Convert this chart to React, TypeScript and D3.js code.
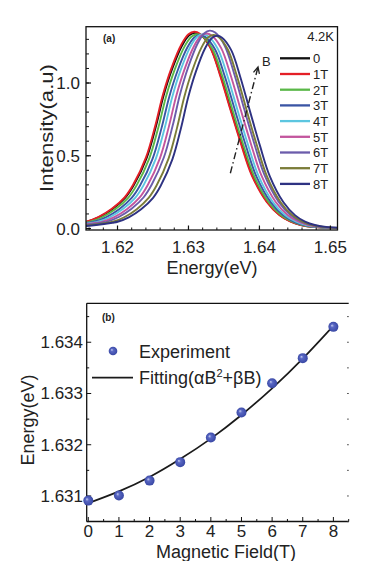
import React from 'react';
import * as d3 from 'd3';

const W = 389;
const H = 561;
const FONT = '"Liberation Sans", Arial, Helvetica, sans-serif';
const INK = '#222';

// ---- panel (a): PL spectra at 4.2K ----
const fieldLabels = ['0', '1T', '2T', '3T', '4T', '5T', '6T', '7T', '8T'];
const seriesColors = ['#111111', '#e41f26', '#5ab848', '#3a55a4', '#5cc6e0', '#c3569e', '#6b5cab', '#7b7c38', '#2e3282'];
const peakEnergy = [1.6309, 1.6308, 1.6312, 1.6316, 1.632, 1.6325, 1.633, 1.6335, 1.634];
const peakHeight = [1.345, 1.352, 1.335, 1.33, 1.335, 1.34, 1.36, 1.33, 1.325];
const peakWidth = [1, 1, 0.99, 0.98, 0.97, 0.96, 0.95, 0.93, 0.92];
// line shape, offset from the peak (eV) and relative height
const profileDE = [-0.021, -0.0185, -0.016, -0.0152, -0.0135, -0.0116, -0.0098, -0.0086, -0.0068, -0.0055, -0.0044, -0.0032, -0.0018, -0.0008, 0, 0.0008, 0.0022, 0.0036, 0.0051, 0.0066, 0.0081, 0.0102, 0.012, 0.0135, 0.015, 0.017, 0.02];
const profileI = [0.01, 0.018, 0.03, 0.035, 0.058, 0.1, 0.158, 0.222, 0.36, 0.52, 0.68, 0.815, 0.935, 0.987, 1, 0.99, 0.925, 0.785, 0.605, 0.43, 0.272, 0.136, 0.068, 0.036, 0.018, 0.007, 0.002];
const energyTicks = [1.62, 1.63, 1.64, 1.65];
const intensityTicks = [0, 0.5, 1.0];

// ---- panel (b): peak energy vs field ----
const fieldB = [0, 1, 2, 3, 4, 5, 6, 7, 8];
const peakB = [1.63091, 1.63101, 1.6313, 1.63166, 1.63214, 1.63263, 1.6332, 1.63369, 1.6343];
const fitB = [1.63086, 1.63109, 1.63137, 1.63172, 1.63212, 1.63258, 1.6331, 1.63368, 1.63432];
const fieldTicks = [0, 1, 2, 3, 4, 5, 6, 7, 8];
const energyTicksB = [1.631, 1.632, 1.633, 1.634];

export default function App() {
  // panel (a) scales
  const xA = d3.scaleLinear().domain([1.61556, 1.651]).range([86, 337.5]);
  const yA = d3.scaleLinear().domain([-0.0103, 1.387]).range([230, 26.7]);
  const [ax0, ax1] = xA.range();
  const [ay0, ay1] = yA.range();

  const lineA = d3.line<[number, number]>()
    .x(d => xA(d[0]))
    .y(d => yA(d[1]))
    .curve(d3.curveCatmullRom.alpha(0.5));

  const spectra = fieldLabels.map((_, k) =>
    profileDE.map((de, i) => [peakEnergy[k] + de * peakWidth[k], profileI[i] * peakHeight[k]] as [number, number])
  );

  const minorX = d3.range(1.616, 1.651, 0.002);
  const minorY = d3.range(0, 1.39, 0.1);

  // panel (b) scales
  const xB = d3.scaleLinear().domain([-0.052, 8.5]).range([86.7, 348.7]);
  const yB = d3.scaleLinear().domain([1.630502, 1.63476]).range([521.5, 303.3]);
  const [bx0, bx1] = xB.range();
  const [by0, by1] = yB.range();

  const fitLine = d3.line<number>()
    .x((_, i) => xB(fieldB[i]))
    .y(d => yB(d))
    .curve(d3.curveNatural);

  const minorXB = d3.range(0, 8.51, 0.5);
  const minorYB = d3.range(1.6305, 1.63476, 0.0005);

  // arrow annotation in data coords
  const arrowFrom: [number, number] = [1.6359, 0.38];
  const arrowTo: [number, number] = [1.6398, 1.11];
  const ax = xA(arrowTo[0]), ay = yA(arrowTo[1]);
  const ang = Math.atan2(yA(arrowFrom[1]) - ay, xA(arrowFrom[0]) - ax);
  const head = (da: number) => `${ax + 7 * Math.cos(ang + da)},${ay + 7 * Math.sin(ang + da)}`;

  return (
    <svg width={W} height={H} style={{ position: 'absolute', left: 0, top: 0, background: '#fff' }} fontFamily={FONT}>
      <defs>
        <clipPath id="clipA">
          <rect x={ax0} y={ay1} width={ax1 - ax0} height={ay0 - ay1} />
        </clipPath>
        <radialGradient id="ball" cx="0.5" cy="0.5" r="0.55" fx="0.35" fy="0.35">
          <stop offset="0" stopColor="#c8d0f2" />
          <stop offset="0.3" stopColor="#5a68c4" />
          <stop offset="1" stopColor="#3443a0" />
        </radialGradient>
      </defs>

      {/* ===== panel (a) ===== */}
      <g clipPath="url(#clipA)">
        {spectra.map((pts, k) => (
          <path key={k} d={lineA(pts) || ''} fill="none" stroke={seriesColors[k]} strokeWidth={1.9} />
        ))}
      </g>
      <rect x={ax0} y={ay1} width={ax1 - ax0} height={ay0 - ay1} fill="none" stroke="#111" strokeWidth={1.3} />
      {minorX.map((v, i) => (
        <line key={i} x1={xA(v)} x2={xA(v)} y1={ay0} y2={ay0 - 2.5} stroke="#111" strokeWidth={1} />
      ))}
      {energyTicks.map(v => (
        <g key={v}>
          <line x1={xA(v)} x2={xA(v)} y1={ay0} y2={ay0 - 4.5} stroke="#111" strokeWidth={1.2} />
          <text x={xA(v)} y={253} textAnchor="middle" fontSize={17} fill={INK}>{d3.format('.2f')(v)}</text>
        </g>
      ))}
      {minorY.map((v, i) => (
        <line key={i} x1={ax0} x2={ax0 + 3} y1={yA(v)} y2={yA(v)} stroke="#111" strokeWidth={1} />
      ))}
      {intensityTicks.map(v => (
        <g key={v}>
          <line x1={ax0} x2={ax0 + 5} y1={yA(v)} y2={yA(v)} stroke="#111" strokeWidth={1.2} />
          <text x={80} y={yA(v) + 6} textAnchor="end" fontSize={17} fill={INK}>{d3.format('.1f')(v)}</text>
        </g>
      ))}
      <text x={212} y={274} textAnchor="middle" fontSize={18} fill={INK}>Energy(eV)</text>
      <text transform={`translate(53,128) rotate(-90)`} textAnchor="middle" fontSize={19} fill={INK} textLength={128} lengthAdjust="spacingAndGlyphs">Intensity(a.u)</text>
      <text x={103} y={42} fontSize={10} fontWeight="bold" fill={INK}>(a)</text>
      <text x={334} y={41} textAnchor="end" fontSize={13} fill={INK}>4.2K</text>

      {/* legend (a) */}
      {fieldLabels.map((lab, k) => {
        const y = 58.3 + k * 15.7;
        return (
          <g key={lab}>
            <line x1={280} x2={310} y1={y} y2={y} stroke={seriesColors[k]} strokeWidth={2.3} />
            <text x={313} y={y + 4.8} fontSize={13} fill={INK}>{lab}</text>
          </g>
        );
      })}

      {/* B arrow */}
      <line x1={xA(arrowFrom[0])} y1={yA(arrowFrom[1])} x2={ax} y2={ay} stroke="#222" strokeWidth={1.4} strokeDasharray="7,3,1.5,3" />
      <polyline points={`${head(0.45)} ${ax},${ay} ${head(-0.45)}`} fill="none" stroke="#222" strokeWidth={1.3} />
      <text x={262} y={66} fontSize={13} fill={INK}>B</text>

      {/* ===== panel (b) ===== */}
      <line x1={bx0} x2={bx0} y1={by1} y2={by0} stroke="#111" strokeWidth={1.3} />
      <line x1={bx0} x2={bx1} y1={by0} y2={by0} stroke="#111" strokeWidth={1.3} />
      <line x1={bx0} x2={bx1} y1={by1} y2={by1} stroke="#111" strokeWidth={1.3} />
      {minorXB.map((v, i) => (
        <line key={i} x1={xB(v)} x2={xB(v)} y1={by0} y2={by0 - (Number.isInteger(v) ? 4.5 : 2.5)} stroke="#111" strokeWidth={1} />
      ))}
      {fieldTicks.map(v => (
        <text key={v} x={xB(v)} y={536.5} textAnchor="middle" fontSize={17} fill={INK}>{v}</text>
      ))}
      {minorYB.map((v, i) => (
        <g key={i}>
          <line x1={bx0} x2={bx0 + (i % 2 === 1 ? 4.5 : 2.5)} y1={yB(v)} y2={yB(v)} stroke="#111" strokeWidth={1} />
          <line x1={bx1} x2={bx1 - 1.5} y1={yB(v)} y2={yB(v)} stroke="#333" strokeWidth={1} />
        </g>
      ))}
      {energyTicksB.map(v => (
        <text key={v} x={83} y={yB(v) + 6} textAnchor="end" fontSize={17} fill={INK}>{d3.format('.3f')(v)}</text>
      ))}
      <text transform={`translate(34,420) rotate(-90)`} textAnchor="middle" fontSize={18} fill={INK}>Energy(eV)</text>
      <text x={226} y={557.5} textAnchor="middle" fontSize={18} fill={INK}>Magnetic Field(T)</text>
      <text x={102} y={321} fontSize={10} fontWeight="bold" fill={INK}>(b)</text>

      <path d={fitLine(fitB) || ''} fill="none" stroke="#1a1a1a" strokeWidth={1.7} />
      {peakB.map((v, i) => (
        <circle key={i} cx={xB(fieldB[i])} cy={yB(v)} r={5} fill="url(#ball)" />
      ))}

      {/* legend (b) */}
      <circle cx={113} cy={351} r={4.3} fill="url(#ball)" />
      <text x={139} y={357.5} fontSize={18} fill={INK}>Experiment</text>
      <line x1={92} x2={133} y1={377.7} y2={377.7} stroke="#1a1a1a" strokeWidth={1.7} />
      <text x={139} y={384} fontSize={18} fill={INK}>
        Fitting(αB<tspan dy={-7} fontSize={11}>2</tspan><tspan dy={7}>+βB)</tspan>
      </text>
    </svg>
  );
}
